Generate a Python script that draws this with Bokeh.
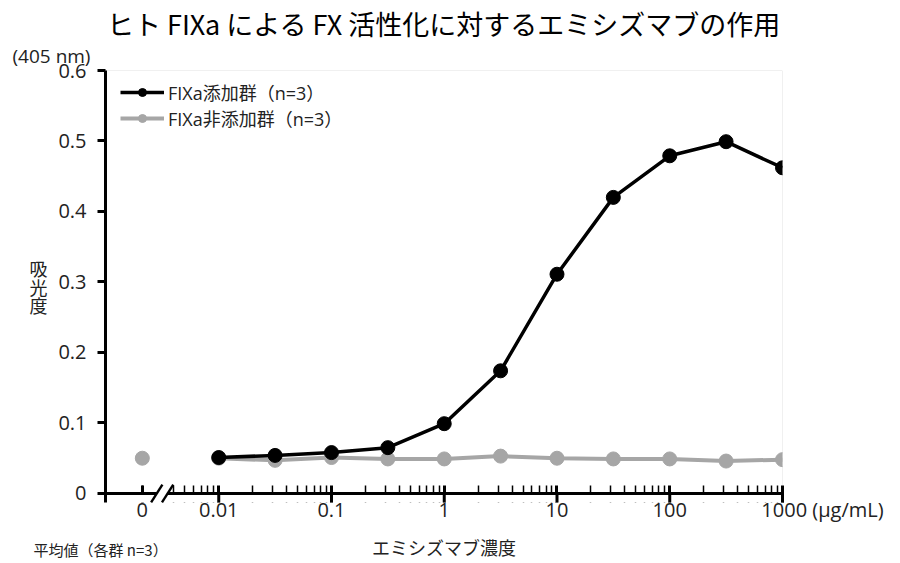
import numpy as np
from bokeh.plotting import figure
from bokeh.models import (FixedTicker, CustomJSTickFormatter, Range1d, Legend,
                          LegendItem, Title)
from bokeh.embed import file_html
from bokeh.resources import INLINE

CJK = "Noto Sans CJK JP"
FONT = "Open Sans, Noto Sans CJK JP"

# ---- data ----
conc = [0.01, 0.0316, 0.1, 0.316, 1, 3.16, 10, 31.6, 100, 316, 1000]
fixa_added = [0.051, 0.054, 0.058, 0.065, 0.099, 0.174, 0.311, 0.420, 0.479, 0.499, 0.462]
fixa_not_added = [0.050, 0.047, 0.051, 0.049, 0.049, 0.053, 0.050, 0.049, 0.049, 0.046, 0.048]
zero_not_added = [0.050]

ZERO_POS = 0.0021         # where the "0" concentration is drawn on the log axis
x_major = [ZERO_POS, 0.01, 0.1, 1, 10, 100, 1000]
y_major = [0, 0.1, 0.2, 0.3, 0.4, 0.5, 0.6]

XMIN, XMAX = 0.00099, 1000
YMIN, YMAX = -0.0128, 0.6
BLACK = "#000000"
GRAY = "#a6a6a6"
TXT = "#222222"

minor = [ZERO_POS] + [k * 0.001 for k in range(4, 10)]
for d in [0.01, 0.1, 1, 10, 100]:
    minor += [k * d for k in range(2, 10)]

p = figure(width=900, height=563, x_axis_type="log",
           x_range=Range1d(XMIN, XMAX), y_range=Range1d(YMIN, YMAX),
           output_backend="svg", toolbar_location=None,
           min_border_left=105, min_border_right=118,
           min_border_top=70, min_border_bottom=61)

p.title.text = "ヒト FIXa による FX 活性化に対するエミシズマブの作用"
p.title.align = "center"
p.title.text_font = CJK
p.title.text_font_size = "27px"
p.title.text_font_style = "normal"
p.title.text_color = "#000000"
p.title.standoff = 0

p.add_layout(Title(text="(405 nm)", align="left", offset=-93, vertical_align="top",
                   text_font=FONT, text_font_size="19px", text_font_style="normal",
                   text_color=TXT, standoff=0), "above")

p.xgrid.visible = False
p.ygrid.visible = False
p.outline_line_color = None

# x axis: sits at the frame bottom, its ticks reach up past y = 0
xa = p.xaxis[0]
xa.ticker = FixedTicker(ticks=x_major, minor_ticks=minor)
xa.formatter = CustomJSTickFormatter(code="""
    if (tick < 0.005) { return "0"; }
    const s = String(Number(tick.toPrecision(3)));
    if (tick > 500) { return "\\u3000\\u3000\\u3000\\u3000" + s + " (\\u03bcg/mL)"; }
    return s;
""")
xa.axis_line_color = None
xa.major_tick_line_width = 3
xa.major_tick_line_color = BLACK
xa.major_tick_in = 17
xa.major_tick_out = 0
xa.minor_tick_in = 17
xa.minor_tick_out = 0
xa.minor_tick_line_width = 1.5
xa.minor_tick_line_color = BLACK
xa.major_label_text_font = FONT
xa.major_label_text_font_size = "20px"
xa.major_label_text_color = TXT
xa.major_label_standoff = -7
xa.axis_label = "エミシズマブ濃度"
xa.axis_label_text_font = CJK
xa.axis_label_text_font_size = "18px"
xa.axis_label_text_font_style = "normal"
xa.axis_label_text_color = TXT
xa.axis_label_standoff = 8

ya = p.yaxis[0]
ya.ticker = FixedTicker(ticks=y_major)
ya.formatter = CustomJSTickFormatter(code="""
    if (Math.abs(tick) < 1e-9) { return "0"; }
    return tick.toFixed(1);
""")
ya.axis_line_width = 3
ya.axis_line_color = BLACK
ya.major_tick_line_width = 3
ya.major_tick_line_color = BLACK
ya.major_tick_in = 0
ya.major_tick_out = 8
ya.minor_tick_line_color = None
ya.major_label_text_font = FONT
ya.major_label_text_font_size = "20px"
ya.major_label_text_color = TXT
ya.major_label_standoff = 11
ya.axis_label = "吸\n光\n度"
ya.axis_label_orientation = "horizontal"
ya.axis_label_text_font = CJK
ya.axis_label_text_font_size = "18px"
ya.axis_label_text_font_style = "normal"
ya.axis_label_text_color = TXT
ya.axis_label_text_line_height = 0.7
ya.axis_label_standoff = 8

p.add_layout(Title(text="平均値（各群 n=3）", align="left", offset=-72, vertical_align="top",
                   text_font=CJK, text_font_size="15px", text_font_style="normal",
                   text_color=TXT, standoff=-48), "below")

# light frame lines on top and right (as in the reference)
p.line([XMIN, XMAX, XMAX], [YMAX, YMAX, 0], line_color="#e2e2e2", line_width=1)

# series
g_line = p.line(conc, fixa_not_added, line_color=GRAY, line_width=4)
g_pts = p.scatter(conc, fixa_not_added, size=14, fill_color=GRAY, line_color=GRAY)
p.scatter([ZERO_POS], zero_not_added, size=14, fill_color=GRAY, line_color=GRAY)
b_line = p.line(conc, fixa_added, line_color=BLACK, line_width=3.5)
b_pts = p.scatter(conc, fixa_added, size=14, fill_color=BLACK, line_color=BLACK)

legend = Legend(items=[
    LegendItem(label="FIXa添加群（n=3）", renderers=[b_line, b_pts]),
    LegendItem(label="FIXa非添加群（n=3）", renderers=[g_line, g_pts]),
], location=(15, 371))
legend.label_text_font = FONT
legend.label_text_font_size = "18px"
legend.label_text_color = TXT
legend.border_line_color = None
legend.background_fill_alpha = 0
legend.glyph_width = 44
legend.glyph_height = 20
legend.label_height = 20
legend.label_standoff = 4
legend.spacing = 0
legend.padding = 0
legend.margin = 0
p.add_layout(legend)

# axis line at y = 0 with a "//" break; minor ticks only above it
p.quad(left=[XMIN * 10 ** 0.015], right=[XMAX], top=[-0.0016], bottom=[YMIN],
       fill_color="white", line_color=None, level="overlay")
p.segment(x0=x_major[1:], y0=[YMIN] * (len(x_major) - 1), x1=x_major[1:], y1=[0] * (len(x_major) - 1),
          line_color=BLACK, line_width=3, level="overlay")
c1, c2 = 0.00282, 0.00352
p.segment(x0=[XMIN, c2], y0=[0, 0], x1=[c1, XMAX], y1=[0, 0],
          line_color=BLACK, line_width=3, level="overlay")
k = 10 ** 0.05
p.segment(x0=[c1 / k, c2 / k], y0=[-0.0125, -0.0125], x1=[c1 * k, c2 * k], y1=[0.0125, 0.0125],
          line_color=BLACK, line_width=2.4, level="overlay")

open("out.html", "w").write(file_html(p, INLINE))
